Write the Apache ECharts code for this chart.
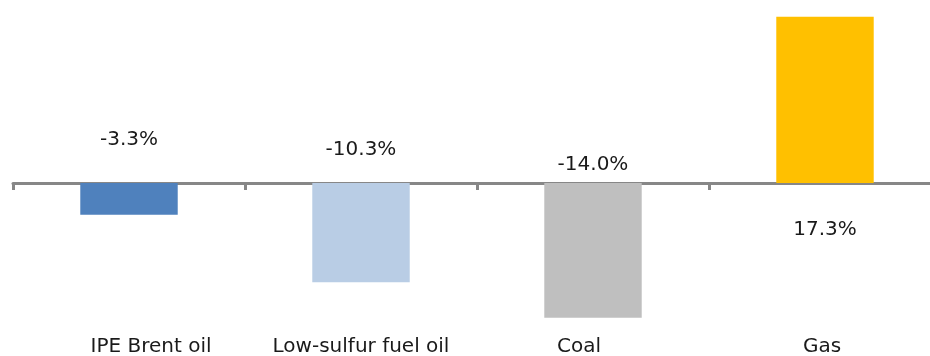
<!DOCTYPE html>
<html>
<head>
<meta charset="utf-8">
<script src="https://cdn.jsdelivr.net/npm/echarts@6/dist/echarts.min.js"></script>
<style>
  html, body { margin: 0; padding: 0; background: #ffffff; }
  #chart { width: 930px; height: 356px; }
</style>
</head>
<body>
<div id="chart"></div>
<script>
const categories = ['IPE Brent oil', 'Low-sulfur fuel oil', 'Coal', 'Gas'];
const values = [-3.3, -10.3, -14.0, 17.3];
const barColors = ['#4F81BD', '#B9CDE5', '#BFBFBF', '#FFC000'];

// style-only tweaks: label distance from the zero line, category label nudges
const labelGap = [33, 23, 8, 37];
const catPadding = [[0, 0, 0, 44], [0, 0, 0, 0], [0, 28, 0, 0], [0, 6, 0, 0]];

const chart = echarts.init(document.getElementById('chart'), null, { renderer: 'canvas' });

const seriesData = values.map((v, i) => ({
  value: v,
  itemStyle: { color: barColors[i] },
  label: {
    position: v < 0 ? 'top' : 'bottom',
    distance: labelGap[i]
  }
}));

const labelCats = categories.map((c, i) => ({
  value: c,
  textStyle: { padding: catPadding[i] }
}));

const option = {
  animation: false,
  backgroundColor: '#ffffff',
  grid: {
    left: 13, right: -11, top: 10, bottom: 19,
    containLabel: false,
    outerBoundsMode: 'none'
  },
  xAxis: [
    {
      type: 'category',
      data: labelCats,
      position: 'bottom',
      axisLine: { show: false, onZero: false },
      axisTick: { show: false },
      axisLabel: {
        color: '#1a1a1a',
        fontFamily: 'DejaVu Sans',
        fontSize: 20,
        margin: 0,
        interval: 0
      }
    },
    {
      type: 'category',
      data: categories,
      position: 'bottom',
      axisLine: { show: true, onZero: true, lineStyle: { color: '#878787', width: 3 } },
      axisTick: { show: true, length: 7, lineStyle: { color: '#878787', width: 3 } },
      axisLabel: { show: false }
    }
  ],
  yAxis: {
    type: 'value',
    min: -16,
    max: 18,
    show: false,
    splitLine: { show: false }
  },
  series: [
    {
      type: 'bar',
      xAxisIndex: 0,
      data: seriesData,
      barWidth: '42%',
      label: {
        show: true,
        color: '#1a1a1a',
        fontFamily: 'DejaVu Sans',
        fontSize: 20,
        formatter: p => p.value.toFixed(1) + '%'
      }
    }
  ]
};

chart.setOption(option);
</script>
</body>
</html>
